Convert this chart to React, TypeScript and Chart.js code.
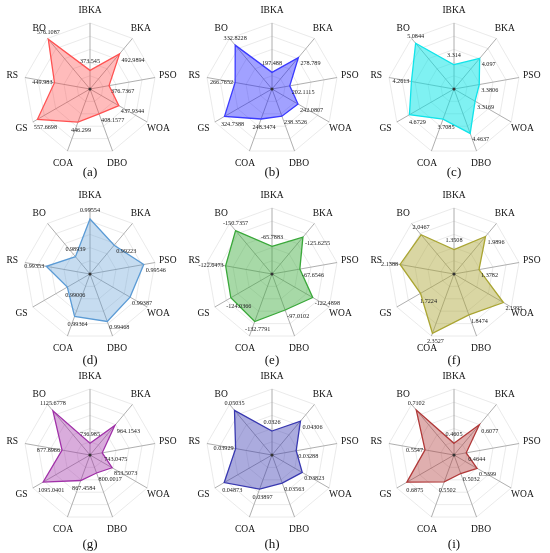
import React, { useEffect, useRef } from "react";
import { Chart, registerables } from "chart.js";
Chart.register(...registerables);

const axes = ["IBKA", "BKA", "PSO", "WOA", "DBO", "COA", "GS", "RS", "BO"];
const captions = ["(a)", "(b)", "(c)", "(d)", "(e)", "(f)", "(g)", "(h)", "(i)"];

const valuesA = [373.545, 492.9894, 376.7367, 437.9344, 408.1577, 446.299, 557.6698, 449.983, 576.1087];
const valuesB = [197.488, 278.789, 202.1115, 242.0807, 238.3526, 248.3474, 324.7388, 266.7652, 332.8228];
const valuesC = [3.314, 4.097, 3.3806, 3.3169, 4.4637, 3.7085, 4.6729, 4.2613, 5.0844];
const valuesD = [0.99554, 0.99223, 0.99546, 0.99387, 0.99468, 0.99364, 0.99006, 0.99353, 0.98939];
const valuesE = [-65.7883, -125.6255, -67.6546, -122.4898, -97.0102, -132.7791, -124.0366, -122.6473, -150.7357];
const valuesF = [1.3508, 1.9896, 1.3782, 2.1995, 1.8474, 2.3527, 1.7224, 2.1388, 2.0467];
const valuesG = [736.985, 964.1543, 743.0475, 853.5073, 800.0017, 867.4584, 1095.0401, 877.8966, 1125.6778];
const valuesH = [0.0326, 0.04306, 0.03288, 0.03823, 0.03563, 0.03897, 0.04873, 0.03929, 0.05035];
const valuesI = [0.4605, 0.6077, 0.4644, 0.5399, 0.5032, 0.5502, 0.6875, 0.5547, 0.7102];

const seriesValues = [valuesA, valuesB, valuesC, valuesD, valuesE, valuesF, valuesG, valuesH, valuesI];

// radial axis ranges of each panel
const scaleMins = [292, 142, 2.1, 0.98508, -178, 0.7204, 638, 0.02019, 0.3985];
const scaleMaxs = [581, 362, 5.4, 0.99763, 15, 2.43, 1196, 0.05431, 0.749];
const scaleReverse = [false, false, false, false, true, false, false, false, false];

const strokeColors = ["#ff5252", "#3a3aff", "#10e4ea", "#5b9bd5", "#3aa83a", "#aaa532", "#a030a8", "#3838b0", "#b03838"];
const fillColors = [
  "rgba(255,60,60,0.35)",
  "rgba(20,20,255,0.4)",
  "rgba(0,228,230,0.5)",
  "rgba(91,155,213,0.35)",
  "rgba(60,170,60,0.45)",
  "rgba(170,165,50,0.45)",
  "rgba(160,48,168,0.4)",
  "rgba(56,56,176,0.42)",
  "rgba(176,56,56,0.4)",
];

const colCenters = [90, 272, 454];
const rowCenters = [89, 274, 455];
const captionOffsets = [84, 87, 90];

const FONT = "'Liberation Serif', 'DejaVu Serif', serif";
const CW = 182;
const CH = 200;
const HALF = 91;
const RADIUS = 66;

function makeLabelPlugin(panel: number) {
  return {
    id: "panelLabels" + panel,
    afterDraw(chart: any) {
      const ctx = chart.ctx;
      const scale = chart.scales.r;
      const cx = scale.xCenter;
      const cy = scale.yCenter;
      const vals = seriesValues[panel];
      ctx.save();
      // center dot
      ctx.fillStyle = "#333";
      ctx.beginPath();
      ctx.arc(cx, cy, 1.6, 0, Math.PI * 2);
      ctx.fill();
      // axis names
      ctx.fillStyle = "#111";
      ctx.font = `9.5px ${FONT}`;
      ctx.textAlign = "center";
      ctx.textBaseline = "middle";
      for (let i = 0; i < axes.length; i++) {
        const p = scale.getPointPosition(i, 79);
        ctx.fillText(axes[i], p.x, p.y);
      }
      // value annotations
      ctx.font = `6.2px ${FONT}`;
      ctx.fillStyle = "#222";
      for (let i = 0; i < vals.length; i++) {
        const p = scale.getPointPositionForValue(i, vals[i]);
        const txt = String(vals[i]);
        let x = p.x;
        let y = p.y;
        if (i === 0) {
          ctx.textAlign = "center";
          ctx.textBaseline = "bottom";
          y -= 6;
        } else if (i >= 1 && i <= 4) {
          ctx.textAlign = "left";
          ctx.textBaseline = "top";
          x += 2;
          y += 3;
        } else if (i === 5) {
          ctx.textAlign = "center";
          ctx.textBaseline = "top";
          x += 3;
          y += 5;
        } else if (i === 6) {
          ctx.textAlign = "center";
          ctx.textBaseline = "top";
          x += 8;
          y += 5;
        } else if (i === 7) {
          ctx.textAlign = "right";
          ctx.textBaseline = "middle";
          x -= 2;
        } else {
          ctx.textAlign = "center";
          ctx.textBaseline = "bottom";
          y -= 4;
        }
        ctx.fillText(txt, x, y);
      }
      // caption
      ctx.font = `13px ${FONT}`;
      ctx.fillStyle = "#111";
      ctx.textAlign = "center";
      ctx.textBaseline = "middle";
      ctx.fillText(captions[panel], cx, cy + captionOffsets[Math.floor(panel / 3)]);
      ctx.restore();
    },
  };
}

function Panel({ panel }: { panel: number }) {
  const ref = useRef<HTMLCanvasElement | null>(null);
  useEffect(() => {
    if (!ref.current) return;
    const chart = new Chart(ref.current, {
      type: "radar",
      data: {
        labels: axes,
        datasets: [
          {
            data: seriesValues[panel],
            borderColor: strokeColors[panel],
            backgroundColor: fillColors[panel],
            borderWidth: 1.3,
            pointRadius: 0,
            pointHoverRadius: 0,
            fill: "start",
          },
        ],
      },
      options: {
        animation: false,
        responsive: false,
        maintainAspectRatio: false,
        layout: { padding: { left: HALF - RADIUS, right: CW - HALF - RADIUS, top: HALF - RADIUS, bottom: CH - HALF - RADIUS } },
        plugins: { legend: { display: false }, tooltip: { enabled: false } },
        scales: {
          r: {
            min: scaleMins[panel],
            max: scaleMaxs[panel],
            reverse: scaleReverse[panel],
            ticks: { display: false, count: 6 },
            grid: { color: "#e4e4e4", lineWidth: 0.8 },
            angleLines: { color: "#9a9a9a", lineWidth: 0.8 },
            pointLabels: { display: false },
          },
        },
      } as any,
      plugins: [makeLabelPlugin(panel)],
    } as any);
    return () => chart.destroy();
  }, [panel]);
  const cx = colCenters[panel % 3];
  const cy = rowCenters[Math.floor(panel / 3)];
  return (
    <canvas
      ref={ref}
      width={CW}
      height={CH}
      style={{ position: "absolute", left: cx - HALF, top: cy - HALF, width: CW, height: CH }}
    />
  );
}

export default function App() {
  return (
    <div
      style={{
        position: "absolute",
        left: 0,
        top: 0,
        width: 550,
        height: 553,
        overflow: "hidden",
        background: "#ffffff",
      }}
    >
      {seriesValues.map((_, i) => (
        <Panel key={i} panel={i} />
      ))}
    </div>
  );
}
